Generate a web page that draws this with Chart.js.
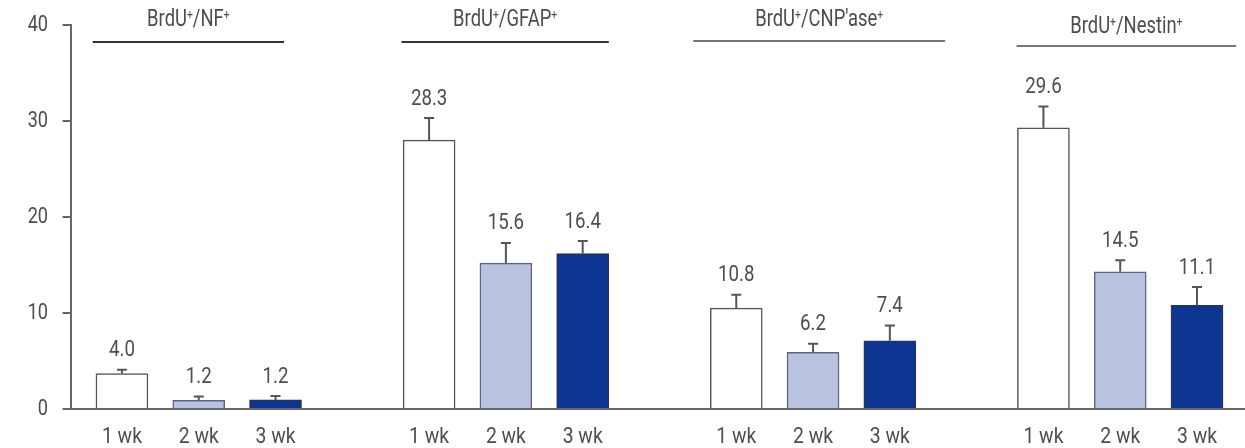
<!DOCTYPE html>
<html lang="en">
  <head>
    <meta charset="UTF-8" />
    <script src="https://cdn.jsdelivr.net/npm/chart.js"></script>
    <title>BrdU double labelling</title>
  </head>
  <body style="margin: 0; background: #fff">
    <div style="width: 1245px; height: 448px">
      <canvas id="chart"></canvas>
    </div>
    <script>
      // data
      const weeks = ['1 wk', '2 wk', '3 wk'];
      const groupNames = ['BrdU^+/NF^+', 'BrdU^+/GFAP^+', "BrdU^+/CNP'ase^+", 'BrdU^+/Nestin^+'];
      const barHeights = [3.7, 0.9, 0.95, 28.0, 15.2, 16.2, 10.5, 5.9, 7.1, 29.3, 14.3, 10.8];
      const errorTops = [4.1, 1.3, 1.35, 30.3, 17.3, 17.5, 11.9, 6.8, 8.7, 31.5, 15.5, 12.7];
      const valueLabels = ['4.0', '1.2', '1.2', '28.3', '15.6', '16.4', '10.8', '6.2', '7.4', '29.6', '14.5', '11.1'];
      const yTicks = [0, 10, 20, 30, 40];

      // header bracket extents: slots relative to each group's first bar, line y, text y, colour
      const brackets = [[-0.38, 2.11, 42, 20, '#333'], [-0.36, 2.34, 42, 20, '#333'], [-0.56, 2.72, 41, 20, '#777'], [-0.35, 2.51, 46, 27, '#777']];

      const FONT = "Roboto, 'Liberation Sans', sans-serif";
      const TEXT = '#4d4d4d';
      const weekColors = ['#ffffff', '#b9c3e0', '#0e3591'];
      const weekBorders = ['#555555', '#5c6480', '#26325e'];

      const points = barHeights.map((v, i) => ({ x: Math.floor(i / 3) * 4 + (i % 3), y: v }));

      // the figure uses a condensed face; squeeze Roboto horizontally
      function narrowText(ctx, str, x, y, size, align, sx) {
        ctx.save();
        ctx.font = size + 'px ' + FONT;
        ctx.textAlign = align;
        ctx.textBaseline = 'middle';
        ctx.translate(x, y);
        ctx.scale(sx, 1);
        ctx.fillText(str, 0, 0);
        ctx.restore();
      }

      function drawRich(ctx, text, cx, cy, size, sx) {
        const parts = text.split(/(\^\+)/).filter(p => p.length);
        const small = Math.round(size * 0.55);
        let total = 0;
        parts.forEach(p => {
          ctx.font = (p === '^+' ? small : size) + 'px ' + FONT;
          total += ctx.measureText(p === '^+' ? '+' : p).width * sx;
        });
        let x = cx - total / 2;
        parts.forEach(p => {
          const sup = p === '^+';
          const s = sup ? '+' : p;
          ctx.font = (sup ? small : size) + 'px ' + FONT;
          const w = ctx.measureText(s).width * sx;
          narrowText(ctx, s, x, sup ? cy - size * 0.2 : cy, sup ? small : size, 'left', sx);
          x += w;
        });
      }

      const extras = {
        id: 'extras',
        afterDatasetsDraw(chart) {
          const ctx = chart.ctx;
          const xs = chart.scales.x;
          const ys = chart.scales.y;
          const bars = chart.getDatasetMeta(0).data;
          ctx.save();
          ctx.fillStyle = TEXT;
          // axis tick labels
          ys.ticks.forEach(t => {
            narrowText(ctx, String(t.value), 48, ys.getPixelForValue(t.value), 22, 'right', 0.82);
          });
          xs.ticks.forEach(t => {
            narrowText(ctx, weeks[t.value % 4], xs.getPixelForValue(t.value), xs.top + 28, 22, 'center', 0.88);
          });
          // error bars and value labels
          bars.forEach((bar, i) => {
            const top = ys.getPixelForValue(errorTops[i]);
            ctx.strokeStyle = '#555';
            ctx.lineWidth = 2;
            ctx.beginPath();
            ctx.moveTo(bar.x, bar.y);
            ctx.lineTo(bar.x, top);
            ctx.moveTo(bar.x - 5, top);
            ctx.lineTo(bar.x + 5, top);
            ctx.stroke();
            narrowText(ctx, valueLabels[i], bar.x, top - 19, 22, 'center', 0.85);
          });
          // group headers
          groupNames.forEach((name, g) => {
            const [a, b, ly, ty, col] = brackets[g];
            const x0 = xs.getPixelForValue(g * 4 + a);
            const x1 = xs.getPixelForValue(g * 4 + b);
            ctx.strokeStyle = col;
            ctx.lineWidth = 2;
            ctx.beginPath();
            ctx.moveTo(x0, ly);
            ctx.lineTo(x1, ly);
            ctx.stroke();
            drawRich(ctx, name, (x0 + x1) / 2, ty, 23, 0.8);
          });
          ctx.restore();
        }
      };

      new Chart(document.getElementById('chart'), {
        type: 'bar',
        data: {
          datasets: [{
            data: points,
            backgroundColor: points.map((p, i) => weekColors[i % 3]),
            borderColor: points.map((p, i) => weekBorders[i % 3]),
            borderWidth: 1.5,
            barThickness: 52
          }]
        },
        options: {
          responsive: true,
          maintainAspectRatio: false,
          animation: false,
          layout: { padding: { top: 25, right: 0, left: 0, bottom: 0 } },
          plugins: { legend: { display: false }, tooltip: { enabled: false } },
          scales: {
            x: {
              type: 'linear',
              offset: false,
              min: -0.67,
              max: 14.625,
              afterBuildTicks: (s) => {
                s.ticks = points.map(p => ({ value: p.x }));
              },
              afterFit: (s) => { s.height = 39; },
              grid: { display: false, drawTicks: false },
              border: { display: true, color: '#666', width: 2 },
              ticks: { display: false }
            },
            y: {
              min: 0,
              max: 40,
              afterBuildTicks: (s) => {
                s.ticks = yTicks.map(v => ({ value: v }));
              },
              afterFit: (s) => { s.width = 70.5; },
              grid: { drawOnChartArea: false, tickLength: 8, color: '#666', lineWidth: 2 },
              border: { display: true, color: '#666', width: 2 },
              ticks: { display: false }
            }
          }
        },
        plugins: [extras]
      });
    </script>
  </body>
</html>
